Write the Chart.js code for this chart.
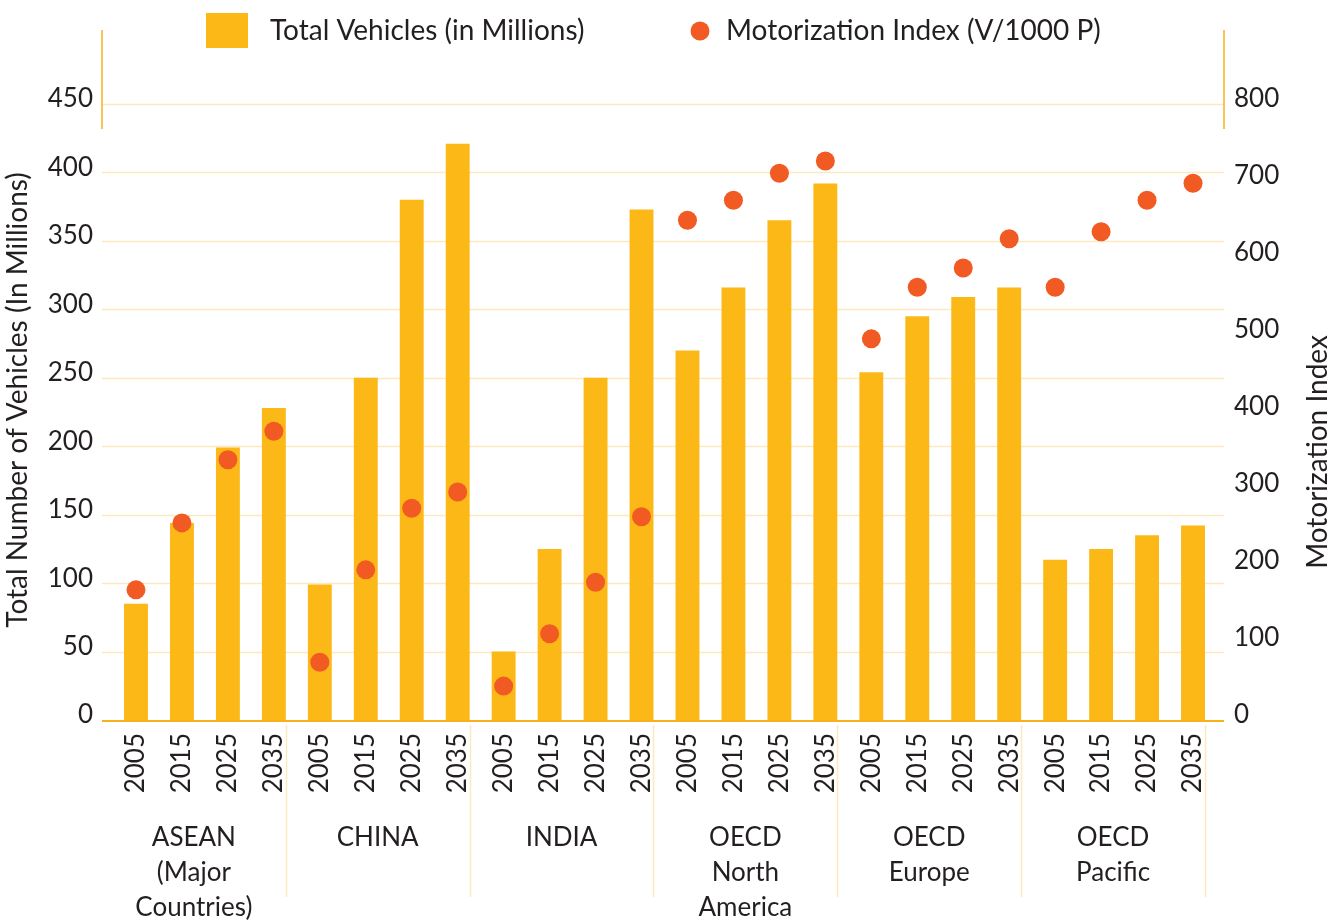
<!DOCTYPE html>
<html>
<head>
<meta charset="utf-8">
<script src="https://cdn.jsdelivr.net/npm/chart.js@4.4.1/dist/chart.umd.min.js"></script>
<style>
  html, body { margin: 0; padding: 0; background: #fff; }
</style>
</head>
<body>
<canvas id="chart" width="1343" height="922"></canvas>
<script>
const years = ['2005', '2015', '2025', '2035'];
const regions = [
  ['ASEAN', '(Major', 'Countries)'],
  ['CHINA'],
  ['INDIA'],
  ['OECD', 'North', 'America'],
  ['OECD', 'Europe'],
  ['OECD', 'Pacific'],
];

// total vehicles, millions (left axis)
const totalVehicles = [
  85, 144, 199, 228,
  99, 250, 380, 421,
  50, 125, 250, 373,
  270, 316, 365, 392,
  254, 295, 309, 316,
  117, 125, 135, 142,
];

// vehicles per 1000 people (right axis)
const motorIndex = [
  169, 256, 338, 375,
  75, 195, 275, 296,
  44, 112, 179, 264,
  649, 675, 710, 726,
  495, 562, 587, 625,
  562, 634, 675, 697,
];

const leftTicks = { min: 0, max: 450, step: 50 };
const rightTicks = { min: 0, max: 800, step: 100 };
const leftTitle = 'Total Number of Vehicles (In Millions)';
const rightTitle = 'Motorization Index';

const labels = regions.flatMap(() => years);

const BAR = '#fbb817';
const DOT = '#f15a22';
const GRID = '#fce9c0';
const AXIS = '#f7b21b';
const TEXT = '#231f20';
const FONT = 'Lato';

Chart.defaults.font.family = FONT;
Chart.defaults.font.size = 26;
Chart.defaults.color = TEXT;

// grid, axis line and the short orange stubs at the top
const framePlugin = {
  id: 'frame',
  beforeDatasetsDraw(chart) {
    const { ctx, chartArea } = chart;
    const y = chart.scales.y;
    const l = chartArea.left - 11;
    const r = chartArea.right + 8;
    ctx.save();
    ctx.strokeStyle = GRID;
    ctx.lineWidth = 1.5;
    y.ticks.forEach((t) => {
      if (t.value === 0) return;
      const py = Math.round(y.getPixelForValue(t.value)) + 0.5;
      ctx.beginPath();
      ctx.moveTo(l, py);
      ctx.lineTo(r, py);
      ctx.stroke();
    });
    ctx.strokeStyle = AXIS;
    ctx.lineWidth = 2;
    const by = chartArea.bottom + 1;
    ctx.beginPath();
    ctx.moveTo(l, by);
    ctx.lineTo(r, by);
    ctx.stroke();
    ctx.lineWidth = 1.5;
    [l, r].forEach((x) => {
      ctx.beginPath();
      ctx.moveTo(x, chartArea.top - 74);
      ctx.lineTo(x, chartArea.top + 25);
      ctx.stroke();
    });
    ctx.restore();
  },
};

// region names under the year ticks, with light separators
const groupPlugin = {
  id: 'groups',
  afterDraw(chart) {
    const { ctx } = chart;
    const x = chart.scales.x;
    const step = x.getPixelForValue(1) - x.getPixelForValue(0);
    const barW = step * 0.52;
    ctx.save();
    ctx.font = '26px ' + FONT;
    ctx.fillStyle = TEXT;
    ctx.textAlign = 'center';
    ctx.textBaseline = 'middle';
    regions.forEach((lines, g) => {
      const sep = x.getPixelForValue(g * 4 + 3) + barW / 2;
      const cx = sep - step * 2;
      ctx.strokeStyle = GRID;
      ctx.lineWidth = 1.5;
      ctx.beginPath();
      ctx.moveTo(Math.round(sep) + 0.5, x.top + 5);
      ctx.lineTo(Math.round(sep) + 0.5, x.top + 177);
      ctx.stroke();
      lines.forEach((t, i) => ctx.fillText(t, cx, x.top + 118 + i * 35));
    });
    ctx.restore();
  },
};

// axis titles, both reading bottom to top
const titlePlugin = {
  id: 'axisTitles',
  afterDraw(chart) {
    const { ctx, chartArea } = chart;
    ctx.save();
    ctx.font = '28px ' + FONT;
    ctx.fillStyle = TEXT;
    ctx.textAlign = 'center';
    ctx.textBaseline = 'middle';
    [[18, chartArea.top + 296, leftTitle], [chart.width - 25, chartArea.top + 348, rightTitle]].forEach(([x, y, t]) => {
      ctx.save();
      ctx.translate(x, y);
      ctx.rotate(-Math.PI / 2);
      ctx.fillText(t, 0, 0);
      ctx.restore();
    });
    ctx.restore();
  },
};

// legend across the top
const legendPlugin = {
  id: 'topLegend',
  afterDraw(chart) {
    const { ctx } = chart;
    const ds = chart.data.datasets;
    const cy = 31;
    ctx.save();
    ctx.font = '28px ' + FONT;
    ctx.textBaseline = 'middle';
    ctx.textAlign = 'left';
    ctx.fillStyle = ds[0].backgroundColor;
    ctx.fillRect(206, cy - 18, 42, 35);
    ctx.fillStyle = TEXT;
    ctx.fillText(ds[0].label, 270, cy);
    ctx.fillStyle = ds[1].pointBackgroundColor;
    ctx.beginPath();
    ctx.arc(700, cy, 9.5, 0, Math.PI * 2);
    ctx.fill();
    ctx.fillStyle = TEXT;
    ctx.fillText(ds[1].label, 726, cy);
    ctx.restore();
  },
};

new Chart(document.getElementById('chart'), {
  type: 'bar',
  data: {
    labels: labels,
    datasets: [
      {
        type: 'bar',
        label: 'Total Vehicles (in Millions)',
        data: totalVehicles,
        backgroundColor: BAR,
        yAxisID: 'y',
        barPercentage: 0.52,
        categoryPercentage: 1,
        order: 2,
      },
      {
        type: 'line',
        label: 'Motorization Index (V/1000 P)',
        data: motorIndex,
        yAxisID: 'y1',
        showLine: false,
        pointRadius: 9.5,
        pointBorderWidth: 0,
        pointBackgroundColor: DOT,
        backgroundColor: DOT,
        order: 1,
      },
    ],
  },
  options: {
    responsive: false,
    animation: false,
    devicePixelRatio: 1,
    layout: { padding: { top: 104, left: 0, right: 0, bottom: 0 } },
    plugins: {
      legend: { display: false },
      tooltip: { enabled: false },
    },
    scales: {
      x: {
        grid: { display: false, drawTicks: false },
        border: { display: false },
        ticks: {
          autoSkip: false,
          minRotation: 90,
          maxRotation: 90,
          padding: 13,
          font: { size: 26 },
        },
        afterFit(scale) { scale.height = 202; },
      },
      y: {
        position: 'left',
        min: leftTicks.min,
        max: leftTicks.max,
        grid: { display: false, drawTicks: false },
        border: { display: false },
        ticks: { stepSize: leftTicks.step, padding: 20, labelOffset: -5 },
        afterFit(scale) { scale.width = 113; },
      },
      y1: {
        position: 'right',
        min: rightTicks.min,
        max: rightTicks.max,
        grid: { display: false, drawTicks: false },
        border: { display: false },
        ticks: { stepSize: rightTicks.step, padding: 18, labelOffset: -5 },
        afterFit(scale) { scale.width = 127; },
      },
    },
  },
  plugins: [framePlugin, groupPlugin, titlePlugin, legendPlugin],
});
</script>
</body>
</html>
